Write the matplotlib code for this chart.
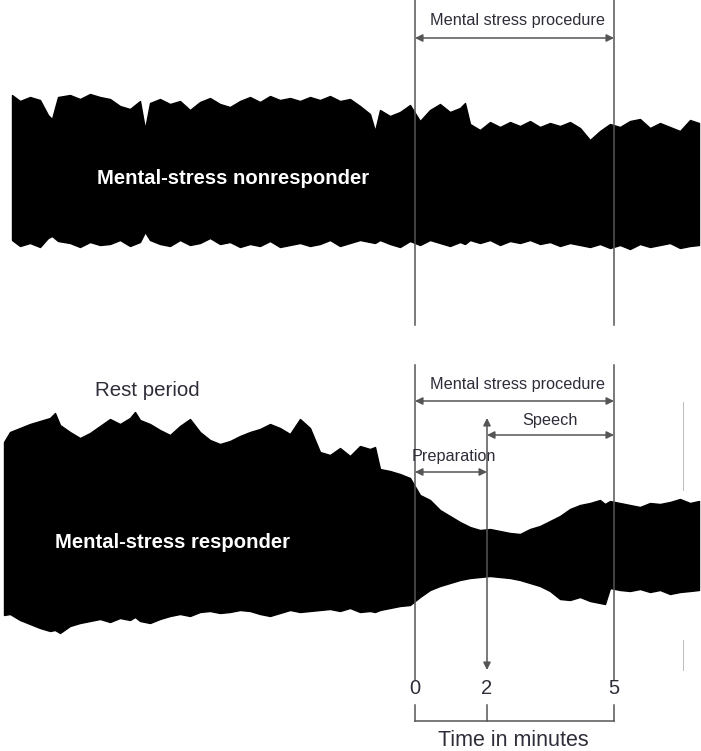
import matplotlib
matplotlib.use("Agg")
import matplotlib.pyplot as plt

plt.rcParams['font.family'] = ['Liberation Sans', 'DejaVu Sans']

# envelope of the nonresponder trace (pixel coords of the page)
top_x = [12, 20, 30, 40, 48, 52, 58, 70, 80, 90, 100, 110, 120, 130, 140, 145, 150,
         160, 170, 180, 190, 200, 210, 220, 230, 240, 250, 260, 270, 280, 290, 300,
         310, 320, 330, 340, 350, 360, 370, 375, 380, 390, 400, 410, 420, 430, 440,
         450, 460, 465, 470, 480, 490, 500, 510, 520, 530, 540, 550, 560, 570, 580,
         590, 600, 610, 620, 630, 640, 650, 660, 670, 680, 690, 699]
top_upper = [95, 101, 97, 100, 115, 119, 97, 95, 99, 94, 97, 99, 106, 109, 101, 129, 103,
             99, 104, 101, 110, 102, 98, 104, 107, 101, 97, 102, 96, 100, 98, 101,
             97, 100, 96, 101, 99, 106, 114, 131, 110, 116, 112, 105, 121, 110, 104,
             112, 108, 103, 124, 130, 122, 127, 122, 126, 121, 127, 123, 126, 122, 128,
             140, 131, 124, 127, 121, 119, 128, 123, 127, 131, 120, 123]
top_lower = [240, 246, 243, 247, 238, 236, 241, 243, 247, 242, 245, 244, 240, 246, 242, 232, 240,
             244, 246, 240, 245, 243, 238, 244, 242, 247, 244, 246, 241, 247, 245, 243,
             246, 244, 240, 246, 243, 240, 242, 243, 240, 244, 247, 241, 245, 240, 243,
             246, 242, 244, 240, 243, 240, 245, 241, 243, 240, 244, 242, 246, 243, 245,
             247, 244, 248, 245, 249, 244, 247, 245, 243, 248, 246, 245]

# envelope of the responder trace
bot_x = [4, 10, 20, 30, 40, 50, 55, 60, 70, 80, 90, 100, 110, 120, 130, 135, 140,
         150, 160, 170, 180, 190, 200, 210, 220, 230, 240, 250, 260, 270, 280, 290,
         300, 310, 320, 330, 340, 350, 360, 370, 375, 380, 390, 400, 410, 420, 430,
         440, 450, 460, 470, 480, 490, 500, 510, 520, 530, 540, 550, 560, 570, 580,
         590, 600, 605, 610, 620, 630, 640, 650, 660, 670, 680, 690, 699]
bot_upper = [442, 432, 428, 424, 421, 418, 413, 425, 432, 438, 433, 426, 419, 424, 418, 412, 420,
             424, 430, 435, 426, 419, 432, 440, 444, 441, 436, 432, 429, 424, 428, 434,
             419, 428, 452, 455, 448, 456, 446, 449, 447, 469, 471, 474, 478, 495, 500,
             510, 516, 522, 527, 530, 529, 531, 533, 534, 529, 526, 521, 516, 509, 505,
             503, 500, 504, 501, 503, 505, 507, 503, 504, 502, 499, 503, 501]
bot_lower = [615, 614, 620, 624, 628, 631, 630, 633, 626, 623, 621, 619, 622, 618, 620, 617, 621,
             623, 619, 616, 614, 616, 612, 611, 613, 612, 610, 611, 614, 616, 613, 610,
             612, 611, 610, 609, 611, 608, 612, 611, 612, 610, 608, 606, 605, 597, 590,
             586, 583, 580, 578, 577, 576, 577, 578, 580, 583, 586, 591, 599, 600, 597,
             601, 603, 604, 588, 590, 591, 589, 592, 590, 594, 592, 591, 590]

# time markers (minutes) and their page x positions
tick_labels = ['0', '2', '5']
tick_px = [415, 487, 614]

line_col = '#555555'
text_col = '#2e2e3a'

fig = plt.figure(figsize=(7.01, 7.51), dpi=100)
ax = fig.add_axes([0, 0, 1, 1])
ax.set_xlim(0, 701)
ax.set_ylim(751, 0)
ax.axis('off')

ax.fill_between(top_x, top_upper, top_lower, color='black', lw=1.0, zorder=2)
ax.fill_between(bot_x, bot_upper, bot_lower, color='black', lw=1.0, zorder=2)

# vertical boundary lines
for x in (tick_px[0], tick_px[2]):
    ax.plot([x, x], [0, 325], color=line_col, lw=1.1, zorder=3)
    ax.plot([x, x], [365, 680], color=line_col, lw=1.1, zorder=3)
ax.plot([683, 683], [402, 490], color='#bbbbbb', lw=0.7, zorder=1)
ax.plot([683, 683], [640, 670], color='#bbbbbb', lw=0.7, zorder=1)

def dbl_arrow(x0, x1, y):
    ax.annotate('', xy=(x1, y), xytext=(x0, y),
                arrowprops=dict(arrowstyle='<|-|>', color=line_col, lw=1.1,
                                mutation_scale=11, shrinkA=0, shrinkB=0), zorder=4)

small = 11.7
dbl_arrow(415, 614, 38)
ax.text(517, 20, 'Mental stress procedure', ha='center', va='center', fontsize=small, color=text_col)

dbl_arrow(415, 614, 401)
ax.text(517, 384, 'Mental stress procedure', ha='center', va='center', fontsize=small, color=text_col)
dbl_arrow(487, 614, 435)
ax.text(550, 421, 'Speech', ha='center', va='center', fontsize=small, color=text_col)
dbl_arrow(415, 487, 472)
ax.text(412, 456, 'Preparation', ha='left', va='center', fontsize=small, color=text_col)

# arrow at the 2-minute mark, pointing both ways
ax.annotate('', xy=(487, 418), xytext=(487, 670),
            arrowprops=dict(arrowstyle='<|-|>', color=line_col, lw=1.1,
                            mutation_scale=11, shrinkA=0, shrinkB=0), zorder=4)

ax.text(97, 178, 'Mental-stress nonresponder', ha='left', va='center', fontsize=14.6,
        fontweight='bold', color='white', zorder=5)
ax.text(55, 543, 'Mental-stress responder', ha='left', va='center', fontsize=14.6,
        fontweight='bold', color='white', zorder=5)
ax.text(95, 390, 'Rest period', ha='left', va='center', fontsize=14.8, color=text_col)

for lab, x in zip(tick_labels, tick_px):
    ax.text(x, 689, lab, ha='center', va='center', fontsize=14.5, color=text_col)
    ax.plot([x, x], [705, 721], color=line_col, lw=1.1)
ax.plot([tick_px[0], tick_px[-1]], [721, 721], color=line_col, lw=1.1)
ax.text(513, 740, 'Time in minutes', ha='center', va='center', fontsize=15.5, color=text_col)

fig.savefig('out.png', dpi=100)
